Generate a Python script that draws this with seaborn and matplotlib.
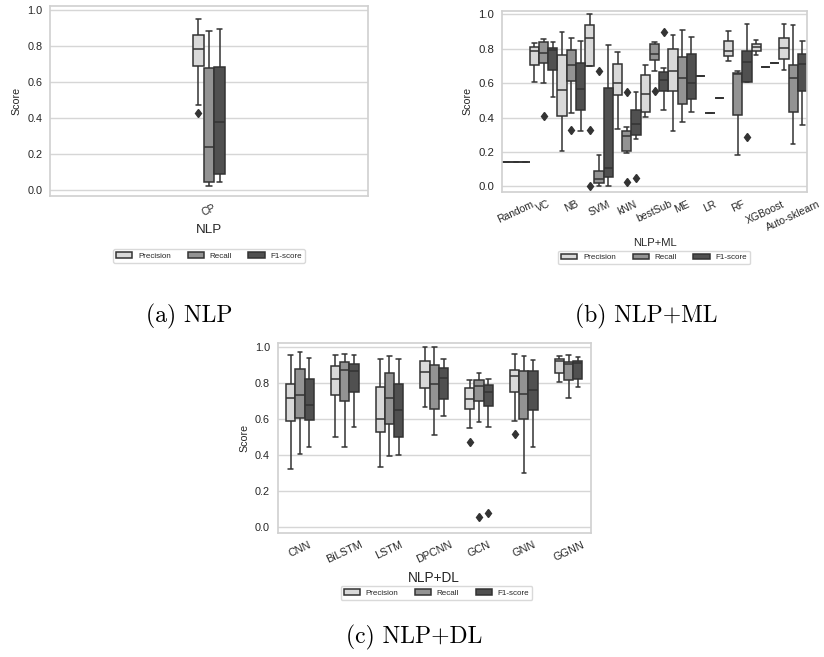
import matplotlib
matplotlib.use("Agg")
import matplotlib.pyplot as plt
import pandas as pd
import seaborn as sns

METRICS = ["Precision", "Recall", "F1-score"]
GREYS = ["#d9d9d9", "#939393", "#505050"]
LINE = "#333333"

# (a) NLP
nlp_models = ["CP"]
nlp_precision = [[0.428, 0.471, 0.69, 0.74, 0.78, 0.82, 0.86, 0.90, 0.95]]
nlp_recall = [[0.022, 0.048, 0.242, 0.675, 0.882]]
nlp_f1 = [[0.044, 0.092, 0.379, 0.68, 0.891]]

# (b) NLP+ML
ml_models = ["Random", "VC", "NB", "SVM", "kNN", "bestSub", "ME", "LR", "RF",
             "XGBoost", "Auto-sklearn"]
ml_precision = [
    [0.14],
    [0.606, 0.707, 0.786, 0.81, 0.833],
    [0.206, 0.408, 0.558, 0.761, 0.894],
    [0.0, 0.33, 0.70, 0.78, 0.86, 0.90, 0.939, 0.97, 1.0],
    [0.336, 0.531, 0.603, 0.711, 0.78],
    [0.404, 0.431, 0.537, 0.647, 0.705],
    [0.322, 0.554, 0.672, 0.798, 0.879],
    [0.641],
    [0.728, 0.757, 0.786, 0.844, 0.904],
    [0.765, 0.784, 0.807, 0.829, 0.848],
    [0.674, 0.74, 0.802, 0.864, 0.941],
]
ml_recall = [
    [0.14],
    [0.41, 0.60, 0.715, 0.75, 0.777, 0.81, 0.84, 0.85, 0.856],
    [0.326, 0.427, 0.612, 0.66, 0.703, 0.75, 0.794, 0.83, 0.862],
    [0.0, 0.01, 0.023, 0.03, 0.042, 0.06, 0.089, 0.18, 0.67],
    [0.025, 0.195, 0.206, 0.25, 0.293, 0.31, 0.322, 0.346, 0.55],
    [0.554, 0.67, 0.732, 0.75, 0.769, 0.80, 0.827, 0.835, 0.84],
    [0.377, 0.481, 0.63, 0.75, 0.906],
    [0.427],
    [0.18, 0.415, 0.655, 0.661, 0.672],
    [0.693],
    [0.247, 0.431, 0.63, 0.705, 0.939],
]
ml_f1 = [
    [0.14],
    [0.518, 0.678, 0.79, 0.806, 0.84],
    [0.322, 0.446, 0.564, 0.719, 0.844],
    [0.0, 0.056, 0.108, 0.574, 0.823],
    [0.052, 0.276, 0.299, 0.33, 0.363, 0.40, 0.442, 0.50, 0.55],
    [0.446, 0.50, 0.554, 0.59, 0.616, 0.64, 0.664, 0.688, 0.896],
    [0.432, 0.51, 0.603, 0.769, 0.867],
    [0.514],
    [0.29, 0.606, 0.606, 0.68, 0.724, 0.76, 0.788, 0.87, 0.945],
    [0.717],
    [0.359, 0.554, 0.713, 0.771, 0.842],
]

# (c) NLP+DL
dl_models = ["CNN", "BiLSTM", "LSTM", "DPCNN", "GCN", "GNN", "GGNN"]
dl_precision = [
    [0.321, 0.588, 0.715, 0.796, 0.953],
    [0.50, 0.732, 0.822, 0.894, 0.953],
    [0.332, 0.525, 0.599, 0.78, 0.931],
    [0.664, 0.774, 0.861, 0.92, 0.999],
    [0.47, 0.547, 0.656, 0.68, 0.708, 0.74, 0.774, 0.80, 0.818],
    [0.514, 0.588, 0.752, 0.80, 0.841, 0.86, 0.872, 0.92, 0.958],
    [0.804, 0.853, 0.922, 0.931, 0.949],
]
dl_recall = [
    [0.404, 0.603, 0.732, 0.877, 0.971],
    [0.446, 0.699, 0.870, 0.918, 0.958],
    [0.394, 0.571, 0.715, 0.857, 0.949],
    [0.509, 0.654, 0.794, 0.901, 0.999],
    [0.053, 0.581, 0.70, 0.75, 0.783, 0.80, 0.817, 0.84, 0.857],
    [0.30, 0.599, 0.741, 0.864, 0.949],
    [0.717, 0.815, 0.903, 0.914, 0.953],
]
dl_f1 = [
    [0.442, 0.594, 0.676, 0.822, 0.938],
    [0.553, 0.747, 0.868, 0.905, 0.955],
    [0.398, 0.501, 0.651, 0.793, 0.935],
    [0.614, 0.708, 0.828, 0.883, 0.935],
    [0.079, 0.557, 0.669, 0.71, 0.747, 0.77, 0.789, 0.81, 0.824],
    [0.444, 0.649, 0.763, 0.864, 0.925],
    [0.778, 0.82, 0.909, 0.923, 0.944],
]


def to_long(models, precision, recall, f1):
    rows = []
    for metric, groups in zip(METRICS, [precision, recall, f1]):
        for model, scores in zip(models, groups):
            for s in scores:
                rows.append((model, metric, s))
    return pd.DataFrame(rows, columns=["model", "metric", "score"])


sns.set_theme(style="whitegrid")
plt.rcParams.update({
    "font.family": ["Liberation Sans", "DejaVu Sans"],
    "axes.edgecolor": "#d0d0d0",
    "axes.linewidth": 1.2,
    "grid.color": "#d6d6d6",
    "grid.linewidth": 1.0,
    "legend.edgecolor": "#d0d0d0",
})

W, H = 824, 657
fig = plt.figure(figsize=(W / 100, H / 100), dpi=100)


def px_axes(left, top, right, bottom):
    return fig.add_axes([left / W, 1 - bottom / H, (right - left) / W, (bottom - top) / H])


def draw(ax, df, models, width, xlabel, ytick_fs, xtick_fs, xlabel_fs, legend_xy):
    sns.boxplot(
        data=df, x="model", y="score", hue="metric",
        order=models, hue_order=METRICS, palette=GREYS,
        width=width, linewidth=1.1, linecolor=LINE,
        flierprops=dict(marker="d", markersize=4.5,
                        markerfacecolor=LINE, markeredgecolor=LINE),
        ax=ax,
    )
    ax.set_ylim(-0.032, 1.02)
    ax.set_xlabel(xlabel, fontsize=xlabel_fs, labelpad=4)
    ax.set_ylabel("Score", fontsize=7.7, labelpad=4)
    ax.tick_params(axis="both", length=0)
    ax.tick_params(axis="y", pad=5.5, labelsize=ytick_fs)
    ax.tick_params(axis="x", pad=5, labelsize=xtick_fs)
    for lbl in ax.get_xticklabels():
        lbl.set_rotation(25)
    sns.move_legend(
        ax, "center", bbox_to_anchor=(legend_xy[0] / W, 1 - legend_xy[1] / H),
        bbox_transform=fig.transFigure, ncol=3, title=None, frameon=True,
        fontsize=5.8, handlelength=2.0, handletextpad=0.7, columnspacing=2.1,
        borderpad=0.35,
    )


ax_a = px_axes(50, 6, 368, 196)
draw(ax_a, to_long(nlp_models, nlp_precision, nlp_recall, nlp_f1), nlp_models,
     0.1, "NLP", 7.8, 7.5, 9.6, (209, 256))

ax_b = px_axes(502, 10.7, 807, 192)
draw(ax_b, to_long(ml_models, ml_precision, ml_recall, ml_f1), ml_models,
     1.0, "NLP+ML", 8.2, 7.5, 8.1, (654, 257.5))

ax_c = px_axes(277.5, 343.3, 591, 532.7)
draw(ax_c, to_long(dl_models, dl_precision, dl_recall, dl_f1), dl_models,
     0.62, "NLP+DL", 7.8, 7.8, 9.8, (436.5, 593))

cap_kw = dict(ha="center", va="center", fontsize=17, family="cmr10", color="black")
fig.text(189 / W, 1 - 316 / H, "(a) NLP", **cap_kw)
fig.text(646 / W, 1 - 316 / H, "(b) NLP+ML", **cap_kw)
fig.text(414 / W, 1 - 637.5 / H, "(c) NLP+DL", **cap_kw)

fig.savefig("out.png", dpi=100)
plt.close(fig)
